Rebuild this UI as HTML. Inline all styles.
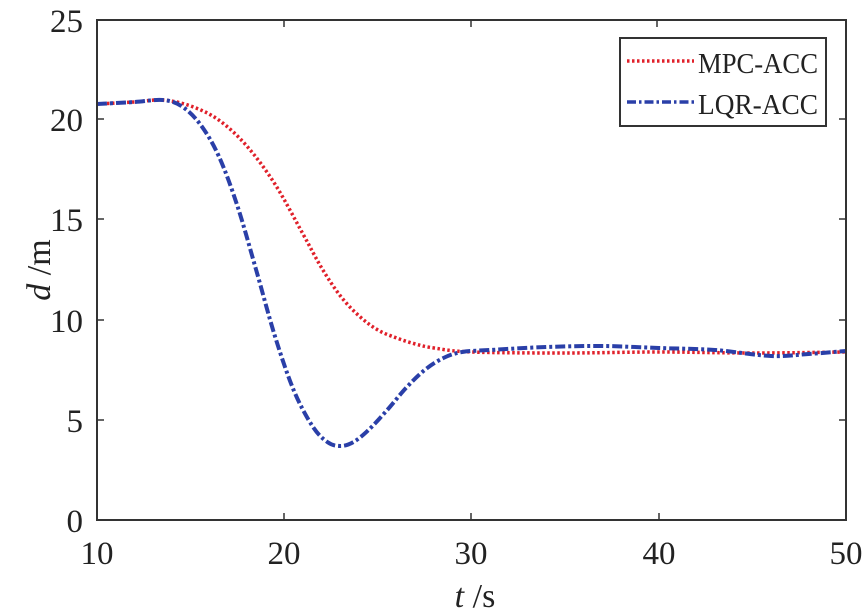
<!DOCTYPE html>
<html><head><meta charset="utf-8"><style>
html,body{margin:0;padding:0;background:#fff;}
svg{display:block;font-family:"Liberation Serif",serif;}
</style></head><body>
<svg id="s" width="865" height="613" viewBox="0 0 865 613" xmlns="http://www.w3.org/2000/svg">
<rect width="865" height="613" fill="#fff"/>
<g id="curves"></g>
<rect x="97" y="20" width="749" height="500" fill="none" stroke="#333" stroke-width="2"/>
<g stroke="#333" stroke-width="1.5">
<line x1="284" y1="520" x2="284" y2="513"/><line x1="471" y1="520" x2="471" y2="513"/><line x1="659" y1="520" x2="659" y2="513"/>
<line x1="284" y1="20" x2="284" y2="27"/><line x1="471" y1="20" x2="471" y2="27"/><line x1="657" y1="20" x2="657" y2="27"/>
<line x1="97" y1="119" x2="104" y2="119"/><line x1="97" y1="219" x2="104" y2="219"/><line x1="97" y1="320" x2="104" y2="320"/><line x1="97" y1="420" x2="104" y2="420"/>
<line x1="846" y1="119" x2="839" y2="119"/><line x1="846" y1="219" x2="839" y2="219"/><line x1="846" y1="320" x2="839" y2="320"/><line x1="846" y1="420" x2="839" y2="420"/>
</g>
<g font-size="33" fill="#222" text-anchor="end">
<text x="83" y="32">25</text><text x="83" y="131">20</text><text x="83" y="231">15</text><text x="83" y="332">10</text><text x="83" y="432">5</text><text x="83" y="532">0</text>
</g>
<g font-size="33" fill="#222" text-anchor="middle">
<text x="97" y="564">10</text><text x="284" y="564">20</text><text x="471" y="564">30</text><text x="659" y="564">40</text><text x="846" y="564">50</text>
</g>
<text x="475" y="607" font-size="34" text-anchor="middle" fill="#222"><tspan font-style="italic">t</tspan> /s</text>
<text transform="translate(50,270) rotate(-90)" font-size="34" text-anchor="middle" fill="#222"><tspan font-style="italic">d</tspan> /m</text>
<rect x="620" y="38" width="206" height="88" fill="#fff" stroke="#333" stroke-width="2"/>
<line x1="627" y1="61" x2="694" y2="61" stroke="#e0202a" stroke-width="3.5" stroke-dasharray="2.5,2.5"/>
<line x1="627" y1="102" x2="694" y2="102" stroke="#2a3fa8" stroke-width="3.5" stroke-dasharray="9,3,2.5,3"/>
<g font-size="29" fill="#222">
<text x="698" y="73" textLength="120" lengthAdjust="spacingAndGlyphs">MPC-ACC</text>
<text x="698" y="114" textLength="120" lengthAdjust="spacingAndGlyphs">LQR-ACC</text>
</g>
</svg>
<script>
function X(t){return 97+(t-10)*749/40;}function Y(d){return 520-d*20;}
function path(pts){var p=pts.map(function(a){return [X(a[0]),Y(a[1])];});var s="M"+p[0][0]+","+p[0][1];
for(var i=0;i<p.length-1;i++){var p0=p[Math.max(i-1,0)],p1=p[i],p2=p[i+1],p3=p[Math.min(i+2,p.length-1)];
s+=" C"+(p1[0]+(p2[0]-p0[0])/6)+","+(p1[1]+(p2[1]-p0[1])/6)+" "+(p2[0]-(p3[0]-p1[0])/6)+","+(p2[1]-(p3[1]-p1[1])/6)+" "+p2[0]+","+p2[1];}return s;}
var mpc=[[10,20.8],[12,20.9],[13.5,21.0],[15,20.7],[16.5,20.0],[18,18.7],[19.5,16.8],[21,14.3],[22,12.6],[23,11.2],[24,10.2],[25,9.5],[26,9.1],[27,8.8],[28,8.6],[30,8.4],[35,8.35],[40,8.4],[45,8.35],[50,8.4]];
var lqr=[[10,20.8],[12,20.9],[13.5,21.0],[14.5,20.7],[15.5,19.8],[16.5,18.2],[17.5,15.7],[18.5,12.5],[19.5,9.2],[20.5,6.5],[21.5,4.7],[22.3,3.9],[23,3.7],[23.7,3.9],[24.5,4.5],[25.5,5.5],[26.5,6.6],[27.5,7.5],[28.5,8.1],[29.5,8.4],[31,8.5],[34,8.65],[37,8.7],[40,8.6],[43,8.5],[46,8.2],[48,8.3],[50,8.45]];
document.getElementById("curves").innerHTML=
'<path d="'+path(mpc)+'" fill="none" stroke="#e0202a" stroke-width="3.5" stroke-dasharray="2.5,2.5"/>'+
'<path d="'+path(lqr)+'" fill="none" stroke="#2a3fa8" stroke-width="4" stroke-dasharray="10,3,3,3"/>';
</script>
</body></html>
